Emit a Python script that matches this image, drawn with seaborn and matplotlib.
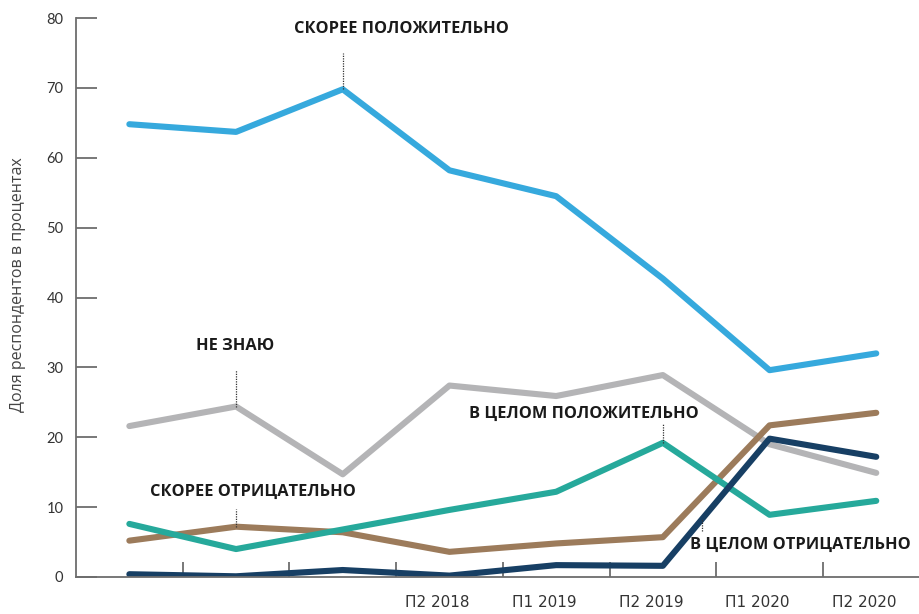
import matplotlib
matplotlib.use("Agg")
import matplotlib.pyplot as plt
import matplotlib.transforms as mtransforms
import seaborn as sns
import pandas as pd
import numpy as np

# ---- data ----
periods = ["П1 2017", "П2 2017", "П1 2018", "П2 2018", "П1 2019", "П2 2019", "П1 2020", "П2 2020"]
tick_labels = ["", "", "", "П2 2018", "П1 2019", "П2 2019", "П1 2020", "П2 2020"]

rather_positive = [64.8, 63.7, 69.8, 58.2, 54.5, 42.7, 29.6, 32.0]
dont_know = [21.6, 24.4, 14.7, 27.4, 25.9, 28.9, 19.0, 14.9]
overall_positive = [7.6, 4.0, 6.8, 9.6, 12.2, 19.2, 8.9, 10.9]
rather_negative = [5.2, 7.2, 6.4, 3.6, 4.8, 5.7, 21.7, 23.5]
overall_negative = [0.4, 0.1, 1.0, 0.2, 1.7, 1.6, 19.8, 17.2]

series_names = ["НЕ ЗНАЮ", "СКОРЕЕ ПОЛОЖИТЕЛЬНО", "СКОРЕЕ ОТРИЦАТЕЛЬНО",
                "В ЦЕЛОМ ПОЛОЖИТЕЛЬНО", "В ЦЕЛОМ ОТРИЦАТЕЛЬНО"]
series_values = [dont_know, rather_positive, rather_negative, overall_positive, overall_negative]
colors = ["#b4b4b6", "#36a9dd", "#9c7b5b", "#26a99b", "#173f64"]

rows = []
for name, vals in zip(series_names, series_values):
    for i, v in enumerate(vals):
        rows.append({"idx": i, "value": v, "series": name})
df = pd.DataFrame(rows)

# ---- figure ----
sns.set_style("white")
plt.rcParams["font.family"] = ["Open Sans", "DejaVu Sans"]

fig = plt.figure(figsize=(9.2, 6.14), dpi=100)
ax = fig.add_axes([76 / 920, 37 / 614, 1 - 76 / 920, 559 / 614])

sns.lineplot(data=df, x="idx", y="value", hue="series", hue_order=series_names,
             palette=dict(zip(series_names, colors)), linewidth=4.4, sort=False,
             legend=False, ax=ax, solid_capstyle="round")

ax.set_xlim(-0.5, 7.41)
ax.set_ylim(0, 80)

# spines
for s in ["top", "right"]:
    ax.spines[s].set_visible(False)
for s in ["left", "bottom"]:
    ax.spines[s].set_color("#6d6d6d")
    ax.spines[s].set_linewidth(1.3)

# y ticks
ax.set_yticks(np.arange(0, 81, 10))
ax.tick_params(axis="y", direction="in", length=15, width=1.3, color="#6d6d6d",
               labelsize=10.5, labelcolor="#333333", pad=9, left=True)
for lab in ax.get_yticklabels():
    lab.set_family(["Lato", "DejaVu Sans"])

# x ticks: labels at points, tick marks at midpoints
idx = np.arange(len(periods))
ax.set_xticks(idx)
ax.set_xticklabels(tick_labels)
ax.set_xticks(idx[:-1] + 0.5, minor=True)
ax.tick_params(axis="x", which="major", length=0, labelsize=11, labelcolor="#333333", pad=13)
ax.tick_params(axis="x", which="minor", direction="in", length=11, width=1.3,
               color="#6d6d6d", bottom=True)
offset = mtransforms.ScaledTranslation(-12 / 100, 0, fig.dpi_scale_trans)
for lab in ax.get_xticklabels():
    lab.set_transform(lab.get_transform() + offset)
    lab.set_family(["Liberation Sans Narrow", "DejaVu Sans"])

ax.set_xlabel("")
ax.set_ylabel("")
fig.text(18 / 920, 1 - 285 / 614, "Доля респондентов в процентах", rotation=90,
         ha="center", va="center", fontsize=11.5, color="#444444")

# annotations
ann_style = dict(ha="center", va="center", fontsize=11.8, fontweight="bold", color="#1a1a1a")
dot_style = dict(color="#333333", linewidth=0.9, linestyle=(0, (1, 1)))

ax.text(2.55, 78.4, "СКОРЕЕ ПОЛОЖИТЕЛЬНО", **ann_style)
ax.plot([2, 2], [rather_positive[2], 75.0], **dot_style)

ax.text(0.99, 33.1, "НЕ ЗНАЮ", **ann_style)
ax.plot([1, 1], [dont_know[1], 29.6], **dot_style)

ax.text(1.16, 12.2, "СКОРЕЕ ОТРИЦАТЕЛЬНО", **ann_style)
ax.plot([1, 1], [rather_negative[1], 9.8], **dot_style)

ax.text(4.26, 23.4, "В ЦЕЛОМ ПОЛОЖИТЕЛЬНО", **ann_style)
ax.plot([5, 5], [overall_positive[5], 22.1], **dot_style)

ax.text(6.29, 4.6, "В ЦЕЛОМ ОТРИЦАТЕЛЬНО", **ann_style)
ax.plot([5.37, 5.37], [6.6, 8.3], **dot_style)

fig.savefig("out.png", dpi=100)
